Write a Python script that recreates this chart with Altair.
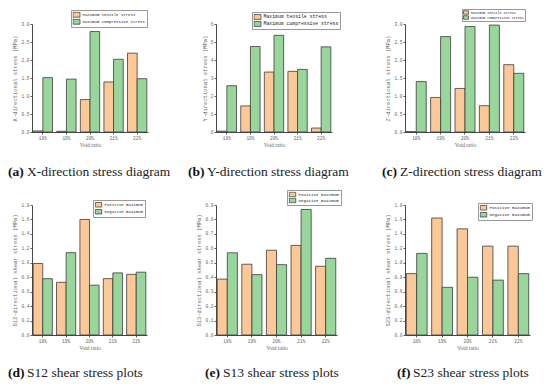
import altair as alt
import pandas as pd

ratios = ["18%", "19%", "20%", "21%", "22%"]

x_tensile = [0.03, 0.02, 0.90, 1.39, 2.19]
x_compressive = [1.51, 1.47, 2.79, 2.02, 1.48]
y_tensile = [0.05, 1.45, 3.33, 3.37, 0.22]
y_compressive = [2.57, 4.75, 5.37, 3.48, 4.73]
z_tensile = [0.01, 0.96, 1.21, 0.73, 1.87]
z_compressive = [1.40, 2.65, 2.93, 2.97, 1.63]
s12_positive = [0.99, 0.73, 1.60, 0.78, 0.84]
s12_negative = [0.78, 1.14, 0.69, 0.86, 0.87]
s13_positive = [0.387, 0.49, 0.587, 0.62, 0.476]
s13_negative = [0.569, 0.418, 0.487, 0.869, 0.531]
s23_positive = [0.85, 1.62, 1.47, 1.23, 1.23]
s23_negative = [1.13, 0.66, 0.80, 0.76, 0.85]

top_names = ["Maximum tensile stress", "Maximum compressive stress"]
bot_names = ["Positive maximum", "Negative maximum"]

ORANGE = "#FCC897"
GREEN = "#98D69B"
LEG_PATH = "M-1,-0.7H1V0.7H-1Z"


def panel(v1, v2, names, ymax, ticks, fmt, ytitle, w, h, lx, ly, lfs, lsz, lpad, lclip,
          bold, text, bx, tx, cy):
    df = pd.DataFrame({
        "ratio": ratios * 2,
        "series": [names[0]] * 5 + [names[1]] * 5,
        "value": v1 + v2,
    })
    bars = alt.Chart(df).mark_bar(stroke="#3c3c3c", strokeWidth=0.8).encode(
        x=alt.X("ratio:N", sort=ratios,
                scale=alt.Scale(paddingInner=0.18, paddingOuter=0.05),
                axis=alt.Axis(title="Void ratio", labelAngle=0,
                              titleFont="Liberation Serif", titleFontSize=5.5)),
        xOffset=alt.XOffset("series:N", sort=names,
                            scale=alt.Scale(paddingInner=0, paddingOuter=0)),
        y=alt.Y("value:Q", scale=alt.Scale(domain=[0, ymax], nice=False),
                axis=alt.Axis(values=ticks, format=fmt, title=ytitle)),
        color=alt.Color("series:N", sort=names,
                        scale=alt.Scale(domain=names, range=[ORANGE, GREEN]),
                        legend=alt.Legend(orient="none", legendX=lx, legendY=ly,
                                          title=None, padding=lpad,
                                          strokeColor="#999", fillColor="white",
                                          rowPadding=0, symbolType=LEG_PATH,
                                          symbolSize=lsz, symbolStrokeColor="#333",
                                          symbolStrokeWidth=0.7, symbolOpacity=1,
                                          clipHeight=lclip,
                                          labelFont="Liberation Mono",
                                          labelFontSize=lfs, labelColor="#222",
                                          labelOffset=2, labelLimit=400)),
    )
    one = pd.DataFrame({"k": [0]})
    cap_b = alt.Chart(one).mark_text(
        text=bold, font="Liberation Serif", fontSize=13.5, fontWeight="bold",
        align="left", baseline="middle", color="#111"
    ).encode(x=alt.value(bx), y=alt.value(cy))
    cap_t = alt.Chart(one).mark_text(
        text=text, font="Liberation Serif", fontSize=13.5, fontWeight="normal",
        align="left", baseline="middle", color="#222"
    ).encode(x=alt.value(tx), y=alt.value(cy))
    return alt.layer(bars, cap_b, cap_t).properties(width=w, height=h)


t3 = [0, 0.5, 1.0, 1.5, 2.0, 2.5, 3.0]
t6 = [0, 1, 2, 3, 4, 5, 6]
t18 = [0, 0.2, 0.4, 0.6, 0.8, 1.0, 1.2, 1.4, 1.6, 1.8]
t09 = [0, 0.1, 0.2, 0.3, 0.4, 0.5, 0.6, 0.7, 0.8, 0.9]

pa = panel(x_tensile, x_compressive, top_names, 3.0, t3, ".1f",
           "X-directional stress (MPa)", 116, 108, 39, -14, 4.0, 49, 1.5, 6.5,
           "(a)", "X-direction stress diagram", -24, -5, 148)
pb = panel(y_tensile, y_compressive, top_names, 6, t6, "d",
           "Y-directional stress (MPa)", 116, 108, 36, -12, 4.8, 49, 1.5, 7,
           "(b)", "Y-direction stress diagram", -28, -9, 148)
pc = panel(z_tensile, z_compressive, top_names, 3.0, t3, ".1f",
           "Z-directional stress (MPa)", 120, 108, 57, -15, 3.4, 25, 1, 5,
           "(c)", "Z-direction stress diagram", -23, -5, 148)
pd_ = panel(s12_positive, s12_negative, bot_names, 1.8, t18, ".1f",
            "S12-directional shear stress (MPa)", 115, 130, 61, -5, 4.0, 42, 1.5, 6.5,
            "(d)", "S12 shear stress plots", -24, -5, 168)
pe = panel(s13_positive, s13_negative, bot_names, 0.9, t09, ".1f",
           "S13-directional shear stress (MPa)", 121, 130, 71, -15, 4.2, 42, 1.5, 6,
           "(e)", "S13 shear stress plots", -11, 7, 168)
pf = panel(s23_positive, s23_negative, bot_names, 1.8, t18, ".1f",
           "S23-directional shear stress (MPa)", 125, 130, 73, -2, 4.2, 42, 1.5, 6.5,
           "(f)", "S23 shear stress plots", -8, 8, 168)

chart = alt.concat(
    pa, pb, pc, pd_, pe, pf, columns=3,
    spacing={"row": 73, "column": 68}, bounds="flush", align="each"
).resolve_scale(
    color="independent", x="independent", y="independent",
    xOffset="independent"
).resolve_legend(color="independent").properties(
    padding=0, background="white"
).configure_view(stroke=None).configure_axis(
    grid=False, labelFont="Liberation Mono", labelFontSize=4.5,
    labelColor="#666", titleFont="Liberation Mono", titleFontSize=5.5,
    titleColor="#666", titleFontWeight="normal", domainColor="#333",
    domainWidth=0.9, tickColor="#333", tickSize=2, tickWidth=0.8,
    labelPadding=1, titlePadding=3
)

chart.save("out.html", embed_options={"renderer": "svg", "actions": False})
